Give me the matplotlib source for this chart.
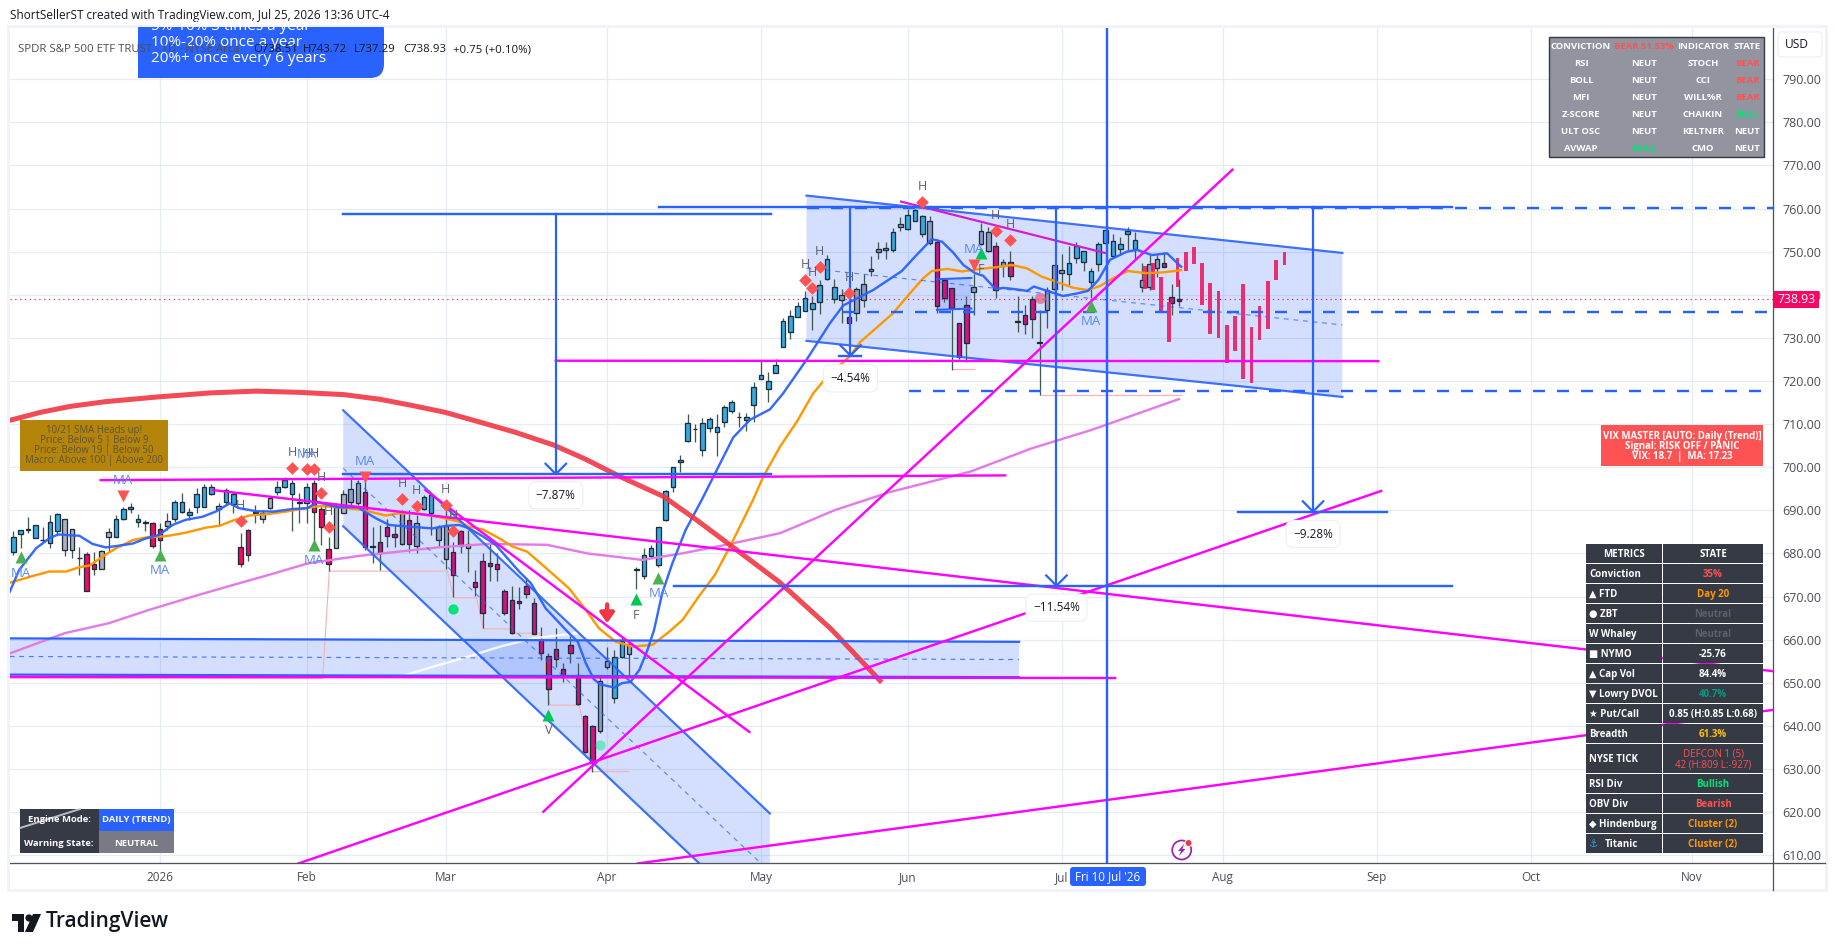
import matplotlib
matplotlib.use("Agg")
import matplotlib.pyplot as plt
from matplotlib.patches import Rectangle, FancyBboxPatch, Polygon, Circle

plt.rcParams['font.family'] = ['Open Sans', 'DejaVu Sans']

# ---- candles, x = trading bar counted from Jan 2 2026 ----
first_bar = -20
highs = [685.1,685.4,688.5,686.5,686.2,688.9,689.3,688.1,685.6,681.6,
         680.4,680.4,680.8,685.8,688.9,690.7,691.6,689.1,687.8,687.4,
         687.0,689.3,692.4,694.1,690.5,695.1,696.1,696.0,691.6,695.1,
         694.3,684.7,685.7,691.2,690.1,693.2,696.7,697.8,697.0,694.1,
         696.3,697.0,690.9,683.7,691.6,694.7,697.4,697.0,696.7,686.2,
         686.6,688.1,686.6,690.1,690.1,688.9,693.6,693.9,686.6,691.2,
         682.7,685.4,685.4,676.2,680.0,682.3,680.0,671.7,672.4,672.3,
         674.2,669.6,663.0,656.8,662.6,654.5,660.8,654.7,642.5,640.2,
         651.4,658.4,657.6,660.7,659.9,676.9,681.2,682.0,686.2,694.6,
         700.1,702.8,712.3,710.0,711.3,711.6,712.3,714.4,715.6,712.7,
         712.5,719.7,724.7,722.1,725.0,734.5,736.5,738.3,740.9,739.6,
         743.4,749.2,743.6,741.3,734.8,741.9,744.8,749.0,752.2,752.3,
         755.4,758.0,760.0,759.8,758.5,758.3,752.9,743.8,741.5,733.4,
         739.7,744.8,756.6,755.6,752.3,748.4,750.1,739.7,737.6,739.7,
         736.5,741.9,746.9,749.5,751.3,752.3,750.1,746.1,752.3,755.0,
         754.2,753.3,755.6,754.6,747.3,749.2,749.2,750.0,742.4,743.7]
body_top = [683.7,685.4,685.7,686.5,683.1,687.4,689.1,688.1,685.6,679.0,
            679.8,677.5,680.5,684.9,687.9,690.2,690.7,687.9,687.4,687.0,
            685.6,687.6,691.9,692.0,689.5,693.9,695.5,695.3,690.9,694.6,
            693.7,681.4,685.4,689.7,689.3,692.8,695.3,697.0,696.3,691.9,
            695.3,696.3,690.2,681.0,690.7,693.9,694.9,696.3,694.2,681.7,
            682.7,686.2,684.5,689.3,687.8,687.1,693.0,693.6,686.1,686.4,
            680.3,685.1,682.1,673.3,678.2,677.7,677.5,671.2,669.2,668.9,
            672.4,668.4,659.9,656.3,657.9,653.1,658.7,651.8,642.4,640.0,
            650.3,655.1,655.9,659.8,659.1,676.4,679.7,681.2,686.1,694.4,
            700.0,701.6,710.2,708.9,710.2,711.1,709.4,713.9,715.1,711.7,
            711.6,718.5,721.3,719.9,723.6,733.9,735.1,737.5,739.2,738.2,
            742.2,748.2,741.7,739.9,734.8,741.3,742.6,746.0,750.5,750.8,
            754.5,756.3,758.4,759.6,758.3,757.0,752.2,743.4,741.5,733.4,
            737.7,741.7,754.7,754.5,751.2,747.7,747.7,733.8,735.2,738.9,
            729.0,741.2,746.8,745.7,747.3,751.2,750.1,745.4,751.7,755.0,
            752.4,751.7,754.9,752.6,743.4,747.1,748.2,747.3,739.4,739.0]
body_bot = [680.4,684.4,685.4,683.5,683.0,682.5,685.1,680.8,680.8,678.9,
            671.4,676.3,676.5,683.9,683.9,687.9,690.2,687.4,687.0,681.8,
            683.1,686.4,687.9,689.5,688.8,690.7,690.7,693.7,690.2,692.0,
            691.4,677.5,679.6,689.3,688.1,690.5,694.2,695.3,693.9,691.8,
            691.6,689.6,686.1,677.5,681.3,689.3,692.0,691.8,681.6,681.6,
            680.0,684.0,683.7,682.3,682.3,681.8,690.2,689.3,683.1,678.6,
            674.9,681.7,681.2,672.3,666.3,677.2,676.3,666.1,661.6,668.4,
            670.7,661.4,656.8,648.5,655.4,651.3,656.8,645.1,634.0,631.7,
            638.9,653.7,646.4,655.9,656.7,676.2,674.7,679.3,677.4,687.7,
            695.3,701.1,706.0,708.8,704.0,709.0,708.2,710.6,713.1,711.7,
            710.9,714.5,720.5,718.1,721.8,727.9,731.4,734.9,736.3,736.8,
            738.4,743.6,739.1,738.7,733.5,735.7,738.7,745.6,750.0,750.3,
            750.3,755.8,755.3,757.0,754.1,752.1,737.5,739.2,737.0,725.6,
            728.7,740.6,751.7,750.2,741.0,746.7,744.3,733.7,733.1,734.3,
            728.9,736.4,741.3,745.0,744.7,748.6,747.7,743.0,747.2,751.9,
            749.1,750.7,754.2,750.6,741.9,741.9,746.1,746.5,738.2,738.5]
lows = [679.6,681.2,684.7,683.5,682.7,681.2,684.3,679.3,678.9,675.0,
        671.4,675.0,676.5,680.4,683.7,687.8,689.3,686.2,685.1,681.2,
        680.0,685.4,687.4,689.3,687.8,689.3,690.7,693.6,686.4,691.5,
        689.3,676.8,678.2,687.1,687.0,690.2,693.6,695.1,685.1,687.0,
        687.0,682.0,682.0,676.0,681.2,689.3,691.2,691.2,680.8,677.7,
        676.2,681.6,681.6,682.0,680.4,680.0,690.1,684.3,681.7,676.5,
        670.0,680.0,675.8,670.1,662.6,673.5,673.5,665.7,661.3,667.0,
        669.6,661.3,655.3,644.8,653.7,650.1,654.5,644.8,633.6,629.4,
        638.3,653.3,645.2,655.7,651.4,671.7,674.0,678.9,676.8,687.6,
        694.3,699.0,705.9,705.9,702.7,708.2,702.5,709.3,712.5,709.4,
        708.5,710.6,720.5,715.2,721.8,727.9,729.7,734.8,736.3,731.8,
        735.5,743.4,738.2,733.5,733.5,734.0,737.2,744.3,748.3,748.3,
        750.0,754.9,755.0,757.0,753.5,751.5,735.7,738.4,722.5,725.2,
        724.5,735.3,751.5,750.0,739.3,744.0,743.4,731.4,731.0,729.9,
        716.7,732.2,741.1,741.1,742.3,747.4,745.4,739.2,745.5,751.5,
        748.8,749.2,750.4,748.4,740.7,741.1,744.2,746.4,735.3,737.4]
kinds = ("bbbbbbbggp" "ppggbbbbbp" "pgbbbbbbgb" "bppbggbbbg" "bpppggssmm"
         "mmmsmsbbss" "mmsmmmmmmm" "mmmmmmmmmm" "ssbbsbbbbb" "bbbbbbbbbb"
         "bbbbbbbbbb" "bbbsmsssss" "bsbbbsmmmm" "msssmsmmmm" "msssbbbbbb"
         "bbbbsssmmm")
kind_colors = {'b': '#36a9e0', 'p': '#f5065f', 'g': '#adb1bb', 's': '#8c9dc4', 'm': '#cc1580'}

# projected bars after the last candle
proj_x = [134.4,135.5,136.6,137.7,138.8,140.0,141.1,142.2,143.3,144.4,145.6,146.7,147.8,148.9,150.0,151.2,152.3,153.4]
proj_top = [746.7,747.4,744.1,738.3,748.5,749.9,751.1,747.4,742.7,740.9,733.0,735.1,742.5,732.5,737.4,743.2,748.1,749.9]
proj_bot = [741.4,741.2,736.1,729.1,741.8,745.4,747.2,737.6,730.9,730.0,724.2,727.0,720.5,719.5,729.5,732.1,743.4,746.9]

# moving averages
blue_x = [-20.5,-19.2,-16.9,-15.1,-13.9,-11,-9.2,-7.4,-6,-3.7,-1.9,-0.1,1.7,3.5,5.8,7.6,9.5,10.8,13.1,15.4,18.1,20.1,21.5,23.1,24.5,27,29.5,31.3,
          32.6,34.9,37.2,39,40.8,42.2,44,45.8,47.6,49,50.6,52.6,55.4,57,58.1,59.2,60.1,62,63,64.2,65.4,66.5,67.4,68.5,69.9,71.7,73.9,75.5,78.2,80.5,83.2,85,88.2,91.4,93.2,
          97.3,101.2,103.2,105.3,106.7,108.2,109.6,111.2,112.3,114,115,116.6,118.3,119.2,121.4,123.2,125.1,126.6,128,129.6,131.9,133.3,135.3,137.4,139.3]
blue_y = [671.1,676.2,681.2,683.5,684.4,684.1,682.2,681.4,681.7,682.3,683.5,684.3,686.6,687.8,688.5,689.7,691.6,690.5,689.8,689.7,690.3,690.5,691.9,691.2,690.7,690.7,688.1,686.6,
          686.4,686.1,685.8,686.4,686.6,685.8,684.0,682.0,678.5,675.8,673.1,667.3,662.2,659.5,654.5,650.8,649.6,648.9,649.9,650.2,653.0,657.6,662.2,670.7,677.7,685.4,692.4,697.8,706.9,711.0,713.4,717.1,724.9,733.4,737.5,
          741.1,745.5,749.2,752.9,752.3,749.8,746.9,745.0,744.4,741.3,741.6,741.3,740.9,741.9,740.7,739.7,740.3,740.9,743.4,748.1,750.0,750.4,749.2,749.6,746.5]
orange_x = [-20.5,-17.3,-15.1,-12.8,-11,-9.6,-7.8,-6,-3.7,-1.9,0.8,3.5,6.3,8.1,9.9,12.2,14.5,17.2,19.9,21.8,24.5,27.6,30.8,
            32.6,35.4,38.1,40.8,42.2,44,46.3,48.1,50.1,52.2,55.8,58.1,59.9,62.2,64.5,67.2,69.5,71.3,73.5,75.7,78,80.9,82.3,84.6,86.9,89.1,91,94.1,95.5,
            100,102.3,104.1,105.3,107.4,109.4,111.4,114.2,116.2,118.3,120.3,122.3,124.6,126.5,128.2,130,132,134.6,136.9,139.3]
orange_y = [673.2,674.8,675.8,675.8,676.8,677.2,679.3,681.2,683.1,683.7,684.0,684.8,686.0,686.4,687.6,688.8,689.1,689.7,690.5,691.0,690.7,690.1,688.8,
            689.3,689.2,688.4,687.4,686.2,685.6,683.5,681.6,680.4,677.3,671.9,666.9,662.6,659.5,658.4,658.8,661.9,664.6,670.0,675.0,682.4,692.4,697.8,704.8,710.6,717.1,721.0,725.7,729.0,
            735.7,740.3,743.8,745.5,746.0,745.4,745.9,746.4,746.9,746.1,744.2,743.0,741.6,741.1,742.0,743.8,745.5,745.0,745.2,745.7]
violet_x = [-20.5,-13,-7,-1.5,5.3,10,14.8,20.2,27,32.5,37.9,44.7,52.8,58.3,65.8,71.2,77.2,84.6,92,99.5,110.6,118.8,127,139]
violet_y = [656.8,661.5,663.8,666.9,670.4,672.7,675.0,677.7,679.4,680.4,681.4,682.2,682.0,680.0,678.5,680.0,682.0,684.7,690.0,694.2,699.0,704.3,708.6,715.8]
red_arc_x = [-20.55,-16.24,-12.25,-7.46,-0.28,6.91,13.13,18.88,25.11,30.06,34.21,38.84,42.83,48.42,53.69,58,62.79,68.7,73.17,78.76,84.5,91.53,98.23]
red_arc_y = [710.85,712.75,714.1,715.2,716.3,717.24,717.65,717.37,716.83,715.74,714.38,712.75,710.85,708.13,705.15,701.9,697.8,693.2,687.8,680.7,673.35,662.5,650.5]
white_x = [32.7,37.2,41.9,46.4,50.9,57.3]
white_y = [651.4,653.7,656.0,658.4,660.3,661.6]
stop_x = [-20.5,22.2,23.1,39.2,40.1,43.2,44.1,48.1,48.2,51.8,53.2,57.2,59,64]
stop_y = [651.0,651.0,675.9,675.9,669.7,669.7,662.5,662.5,661.5,661.5,644.8,644.8,629.4,629.4]

# drawn lines: x0, price0, x1, price1
magenta_lines = [(-8.1,697.0,115.3,698.1),(7.2,694.7,220,652.7),(-20.5,651.4,130.3,651.1),(54,724.7,166.2,724.6),
                 (52.3,620.1,146.3,769.0),(18.9,608.1,166.6,694.5),(65.2,608.1,220,643.7),(36.2,694.7,80.4,638.6)]
blue_solid = [(25,758.7,83.4,758.7),(25,698.4,83.4,698.4),(68.1,760.3,176.3,760.3),(70.1,672.5,176.3,672.5),(147.1,689.7,167.4,689.7),(92.7,725.9,95.7,725.9)]
blue_dashed = [(88.2,760.2,220,760.2),(93.2,736.1,220,736.1),(102.2,717.6,220,717.6)]
# measure arrows: x, from, to
arrows = [(54,758.7,698.4),(94.2,760.3,725.9),(122.3,760.3,672.5),(157.3,760.3,689.7)]
measure_labels = [(54,693.5,'\u22127.87%'),(94.2,720.6,'\u22124.54%'),(122.3,667.4,'\u221211.54%'),(157.3,684.5,'\u22129.28%')]
# channels: x0, x1, upper0, upper1, lower0, lower1
channels = [(25,83.2,713.2,619.7,686.3,592.6),(88.2,161.3,763.0,749.7,729.3,716.3)]
band = (-20.5,117.2,660.3,659.5,651.9,651.3)

# markers
diamond_x = [18,20,21,22,23,11,33,35,39,40,88,89,90,94,104,114,116]
diamond_y = [699.7,699.5,699.5,694.1,686.2,687.5,692.6,691.0,691.2,685.2,743.4,741.5,746.5,740.3,761.4,754.8,752.7]
green_up_x = [-19,0,21,127,68]
green_up_y = [679.1,679.6,682.0,737.4,674.4]
ma_text_x = [-19,0,21,127,68,-5,111,28,20]
ma_text_y = [675.4,676.0,678.4,733.7,670.6,697.0,750.4,701.3,703.0]
bright_up_x = [65,53,112]
bright_up_y = [669.4,642.5,749.6]
red_down_x = [-5,28,111]
red_down_y = [693.3,697.8,746.9]
letters = [(65,665.6,'F'),(53,638.9,'V'),(112,745.8,'F')]

month_pos = [0,20,39,61,82,102,123,145,166,187,209]
month_names = ['2026','Feb','Mar','Apr','May','Jun','Jul','Aug','Sep','Oct','Nov']
price_ticks = list(range(610, 800, 10))
last_price = 738.93

top_left = ['5%-10% 3 times a year', '10%-20% once a year', '20%+ once every 6 years']
sma_note = ['10/21 SMA Heads up!', 'Price: Below 5 | Below 9', 'Price: Below 19 | Below 50', 'Macro: Above 100 | Above 200']
vix_note = ['VIX MASTER [AUTO: Daily (Trend)]', 'Signal: RISK OFF / PANIC', 'VIX: 18.7  |  MA: 17.23']
conv_rows = [['CONVICTION','BEAR 51.53%','INDICATOR','STATE'],['RSI','NEUT','STOCH','BEAR'],['BOLL','NEUT','CCI','BEAR'],
             ['MFI','NEUT','WILL%R','BEAR'],['Z-SCORE','NEUT','CHAIKIN','BULL'],['ULT OSC','NEUT','KELTNER','NEUT'],['AVWAP','BULL','CMO','NEUT']]
metric_names = ['METRICS','Conviction','\u25b2 FTD','\u25cf ZBT','W Whaley','\u25a0 NYMO','\u25b2 Cap Vol','\u25bc Lowry DVOL','\u2605 Put/Call','Breadth','NYSE TICK','RSI Div','OBV Div','\u25c6 Hindenburg','\u2693 Titanic']
metric_vals = ['STATE','35%','Day 20','Neutral','Neutral','-25.76','84.4%','40.7%','0.85 (H:0.85 L:0.68)','61.3%','DEFCON 1 (5)\n42 (H:809 L:-927)','Bullish','Bearish','Cluster (2)','Cluster (2)']
metric_cols = ['white','#ff5252','#ff9800','#5d606b','#5d606b','white','white','#089981','white','#ffc400','#ff5252','#00e676','#ff5252','#ff9800','#ff9800']

BLUE = '#2962ff'
MAG = '#ff00ff'
GRID = '#e6ecf2'
W, H = 1835, 951
px = 1/100*72  # one pixel in points

fig = plt.figure(figsize=(W/100, H/100), dpi=100, facecolor='white')
ax = fig.add_axes([10/W, 1-863/H, (1773-10)/W, (863-27)/H])
ax.set_xlim(-20.46, 220.05)
ax.set_ylim(608.2, 802.1)
ax.set_yticks(price_ticks)
ax.set_yticklabels(['%.2f' % p for p in price_ticks])
ax.set_xticks(month_pos)
ax.set_xticklabels(month_names)
ax.yaxis.tick_right()
ax.tick_params(axis='y', length=0, pad=6.5, labelsize=9, labelcolor='#4a4d57')
ax.tick_params(axis='x', length=0, pad=5.5, labelsize=8.5, labelcolor='#4a4d57')
ax.grid(True, color=GRID, lw=1.3*px, zorder=0)
ax.set_axisbelow(True)
for s in ['top', 'left']:
    ax.spines[s].set_visible(False)
for s in ['right', 'bottom']:
    ax.spines[s].set_color('#50535e')
    ax.spines[s].set_linewidth(1.3*px)

# fills first
for x0, x1, u0, u1, l0, l1 in channels:
    ax.add_patch(Polygon([(x0,u0),(x1,u1),(x1,l1),(x0,l0)], fc=BLUE, alpha=0.2, lw=0, zorder=1))
    ax.plot([x0,x1],[u0,u1], color=BLUE, lw=2.2*px, zorder=6, alpha=0.9)
    ax.plot([x0,x1],[l0,l1], color=BLUE, lw=2.2*px, zorder=6, alpha=0.9)
    ax.plot([x0,x1],[(u0+l0)/2,(u1+l1)/2], color=BLUE, lw=1.2*px, ls=(0,(4,4)), zorder=6, alpha=0.7)
x0, x1, u0, u1, l0, l1 = band
ax.add_patch(Polygon([(x0,u0),(x1,u1),(x1,l1),(x0,l0)], fc=BLUE, alpha=0.2, lw=0, zorder=1))
ax.plot([x0,x1],[u0,u1], color=BLUE, lw=2.2*px, zorder=6)
ax.plot([x0,x1],[l0,l1], color=BLUE, lw=2.2*px, zorder=6)
ax.plot([x0,x1],[(u0+l0)/2,(u1+l1)/2], color=BLUE, lw=1.2*px, ls=(0,(4,4)), zorder=6, alpha=0.8)
ax.add_patch(Rectangle((106,736.5),4.7,7.1, fc=BLUE, alpha=0.2, lw=0, zorder=1))
ax.plot([106,110.7],[743.6,743.9], color=BLUE, lw=2*px, zorder=6)
ax.plot([106,110.7],[736.5,736.8], color=BLUE, lw=2*px, zorder=6)

ax.plot(stop_x, stop_y, color='#f7b3b3', lw=1.2*px, zorder=2)
ax.plot([108.2,111],[722.8,722.8], color='#f7b3b3', lw=1.2*px, zorder=2)
ax.plot([120.2,139.3],[716.8,716.8], color='#f7b3b3', lw=1.2*px, zorder=2)

# candles
xs = list(range(first_bar, first_bar+len(highs)))
ax.vlines(xs, lows, highs, color='#3f5a4a', lw=1.3*px, zorder=3)
ax.bar(xs, [t-b for t, b in zip(body_top, body_bot)], bottom=body_bot, width=0.62,
       color=[kind_colors[k] for k in kinds], edgecolor='#1d2b3a', linewidth=1.3*px, zorder=4)
ax.bar(proj_x, [t-b for t, b in zip(proj_top, proj_bot)], bottom=proj_bot, width=0.52,
       color='#ec1f66', lw=0, alpha=0.92, zorder=4)

ax.axhline(last_price, color='#e8115f', lw=1.2*px, ls=(0,(1,3)), zorder=3)
ax.plot(violet_x, violet_y, color='#e27be9', lw=2.4*px, zorder=5)
ax.plot(white_x, white_y, color='white', lw=2.4*px, alpha=0.85, zorder=5)
ax.plot(orange_x, orange_y, color='#ff9800', lw=2.4*px, zorder=5)
ax.plot(blue_x, blue_y, color=BLUE, lw=2.4*px, zorder=5, alpha=0.95)
ax.plot(red_arc_x, red_arc_y, color='#f23645', lw=5*px, zorder=5, alpha=0.9, solid_joinstyle='round')

for a, b, c, d in magenta_lines:
    ax.plot([a,c],[b,d], color=MAG, lw=2.4*px, zorder=6)
ax.plot([101.1,128.9],[761.6,749.7], color='#d61bd6', lw=2.2*px, zorder=6)
for a, b, c, d in blue_solid:
    ax.plot([a,c],[b,d], color=BLUE, lw=2.4*px, zorder=7)
for a, b, c, d in blue_dashed:
    ax.plot([a,c],[b,d], color=BLUE, lw=2.4*px, ls=(0,(5,5)), zorder=7)
for x, p0, p1 in arrows:
    ax.plot([x,x],[p0,p1], color=BLUE, lw=2.2*px, zorder=7)
    ax.plot([x-1.4,x,x+1.4],[p1+2.4,p1,p1+2.4], color=BLUE, lw=2.2*px, zorder=7)
ax.axvline(129.2, color=BLUE, lw=2.4*px, zorder=7)

for x, y, s in measure_labels:
    ax.text(x, y, s, fontsize=8.5, color='#131722', ha='center', va='center', zorder=9,
            bbox=dict(boxstyle='round,pad=0.6', fc='white', ec='#eceff3', lw=0.8))

ax.scatter(diamond_x, diamond_y, marker='D', s=42, color='#ff5252', lw=0, zorder=8)
for x, y in zip(diamond_x, diamond_y):
    ax.text(x, y+3.6, 'H', fontsize=9, color='#5d606b', ha='center', va='center', zorder=8)
ax.scatter(green_up_x, green_up_y, marker='^', s=75, color='#4caf50', lw=0, zorder=8)
ax.scatter(bright_up_x, bright_up_y, marker='^', s=75, color='#00c853', lw=0, zorder=8)
ax.scatter(red_down_x, red_down_y, marker='v', s=75, color='#ff5252', lw=0, zorder=8)
for x, y in zip(ma_text_x, ma_text_y):
    ax.text(x, y, 'MA', fontsize=9.5, color='#5b86f5', ha='center', va='center', zorder=8)
for x, y, s in letters:
    ax.text(x, y, s, fontsize=9, color='#5d606b', ha='center', va='center', zorder=8)
ax.scatter([40],[667.2], s=55, color='#00e676', lw=0, zorder=8)
ax.scatter([60],[635.6], s=55, color='#00e676', alpha=0.45, lw=0, zorder=8)
ax.scatter([120],[739.2], s=65, color='#e8476f', alpha=0.6, lw=0, zorder=8)
ax.annotate('', xy=(61,663.8), xytext=(61,668.2), zorder=9,
            arrowprops=dict(arrowstyle='-|>,head_width=0.35,head_length=0.5', color='#f23645', lw=3,
                            mutation_scale=12, shrinkA=0, shrinkB=0))

# ---- everything below sits in figure pixels ----
ov = fig.add_axes([0,0,1,1], zorder=10)
ov.set_xlim(0, W)
ov.set_ylim(H, 0)
ov.axis('off')
ov.patch.set_alpha(0)

ov.add_patch(Rectangle((8,26),1818,864, fc='none', ec='#f0f3fa', lw=3*px))
ov.plot([1773,1773],[863,890], color='#50535e', lw=1.3*px)
ov.plot([1773,1825],[863,863], color='#50535e', lw=1.3*px)

ov.text(9.5, 15, 'ShortSellerST created with TradingView.com, Jul 25, 2026 13:36 UTC-4', fontsize=8.5, color='#131722', va='center')

# blue note box, cut off by the top of the chart
box = FancyBboxPatch((138,16),246,62, boxstyle='round,pad=0,rounding_size=14', fc=BLUE, ec='none')
ov.add_patch(box)
clip = Rectangle((138,27),246,60, transform=ov.transData)
box.set_clip_path(clip)
ov.add_patch(Rectangle((138,27),30,51, fc=BLUE, ec='none'))
for y, s in zip([27,43,59], top_left):
    t = ov.text(151, y, s, fontsize=11, color='white', va='center')
    t.set_clip_path(clip)
ov.text(18, 49.5, 'SPDR S&P 500 ETF TRUST \u00b7 1D \u00b7 NYSE Arca', fontsize=8.2, color='#4a4d57', va='center')
for x, s in zip([253,303,354,403,453], ['O738.51','H743.72','L737.29','C738.93','+0.75 (+0.10%)']):
    ov.text(x, 49.5, s, fontsize=8.2, color='#131722', va='center')

ov.add_patch(Rectangle((20,420),148,51, fc='#b5850b', ec='none'))
for y, s in zip([431,441,451,461], sma_note):
    ov.text(94, y, s, fontsize=6.9, color='#5f5430', ha='center', va='center')

# conviction table
ov.add_patch(Rectangle((1548.5,36.5),215,120, fc='#9294a0', ec='#363a45', lw=1.4*px))
col_x = [1581,1644,1703,1747]
for r, row in enumerate(conv_rows):
    for c, s in enumerate(row):
        col = '#ff5252' if 'BEAR' in s else ('#00e676' if s == 'BULL' else 'white')
        ov.text(col_x[c], 46.5+17*r, s, fontsize=6.8, color=col, fontweight='bold', ha='center', va='center')

ov.add_patch(Rectangle((1601,425),162,41, fc='#ff5252', ec='none'))
for y, s in zip([436.5,446.5,456.5], vix_note):
    ov.text(1682, y, s, fontsize=6.9, color='white', fontweight='bold', ha='center', va='center')

# metrics table
y = 544
for name, val, col in zip(metric_names, metric_vals, metric_cols):
    h = 30 if name == 'NYSE TICK' else 20
    ov.add_patch(Rectangle((1586,y),76,h-1, fc='#363a45', ec='none'))
    ov.add_patch(Rectangle((1663,y),100,h-1, fc='#363a45', ec='none'))
    if name == 'METRICS':
        ov.text(1624, y+10.5, name, fontsize=7, color='white', fontweight='bold', ha='center', va='center')
    elif name.startswith('\u2693'):
        ov.text(1589, y+10.5, '\u2693', fontsize=7.5, color='#2ea4dd', va='center')
        ov.text(1605, y+10.5, name[2:], fontsize=7, color='white', fontweight='bold', va='center')
    else:
        ov.text(1589, y+h/2+0.5, name, fontsize=7, color='white', fontweight='bold', va='center')
    ov.text(1713, y+h/2+0.5, val, fontsize=7, color=col, ha='center', va='center', linespacing=1.05,
            fontweight='normal' if name == 'NYSE TICK' else 'bold')
    y += h

# engine table
ov.add_patch(Rectangle((20,809),79,44, fc='#363a45', ec='none'))
ov.add_patch(Rectangle((99,809),75,22, fc=BLUE, ec='none'))
ov.add_patch(Rectangle((99,831),75,22, fc='#787b86', ec='none'))
ov.plot([20,80],[828,809], color='#d6d8dd', lw=2*px, alpha=0.8)
ov.text(59, 820, 'Engine Mode:', fontsize=6.8, color='white', fontweight='bold', ha='center', va='center')
ov.text(59, 843, 'Warning State:', fontsize=6.8, color='white', fontweight='bold', ha='center', va='center')
ov.text(136.5, 820, 'DAILY (TREND)', fontsize=6.8, color='white', fontweight='bold', ha='center', va='center')
ov.text(136.5, 843, 'NEUTRAL', fontsize=6.8, color='white', fontweight='bold', ha='center', va='center')

# price side
ov.add_patch(Rectangle((1774,291),45,17, fc='#f50a63', ec='none'))
ov.text(1796.5, 299.5, '738.93', fontsize=8.8, color='white', ha='center', va='center')
ov.add_patch(FancyBboxPatch((1778,32),44,25, boxstyle='round,pad=0,rounding_size=4', fc='white', ec='#eef0f4', lw=1.3*px))
ov.text(1797, 44.5, 'USD', fontsize=8.6, color='#131722', ha='center', va='center')

ov.add_patch(FancyBboxPatch((1070,867),76,19, boxstyle='round,pad=0,rounding_size=3', fc=BLUE, ec='none'))
ov.text(1108, 876.5, "Fri 10 Jul '26", fontsize=8.4, color='white', ha='center', va='center')

# small event icon near the time axis
ov.add_patch(Circle((1181.7,850),9.5, fc='white', ec='#9c27b0', lw=1.8*px))
ov.add_patch(Polygon([(1184,844),(1178,851),(1181,851),(1179,856),(1185.5,849),(1182.5,849)], fc='#9c27b0', ec='none'))
ov.add_patch(Circle((1188.5,843),3.5, fc='#f23645', ec='white', lw=1*px))

# logo
ov.add_patch(Polygon([(12,914),(24,914),(24,932),(18,932),(18,921),(12,921)], fc='#131722', ec='none'))
ov.add_patch(Circle((29,918),3.6, fc='#131722', ec='none'))
ov.add_patch(Polygon([(33,914),(41,914),(33,932),(25,932)], fc='#131722', ec='none'))
ov.text(46, 922, 'TradingView', fontsize=15, color='#131722', fontweight='semibold', va='center')

fig.savefig('out.png', dpi=100)
